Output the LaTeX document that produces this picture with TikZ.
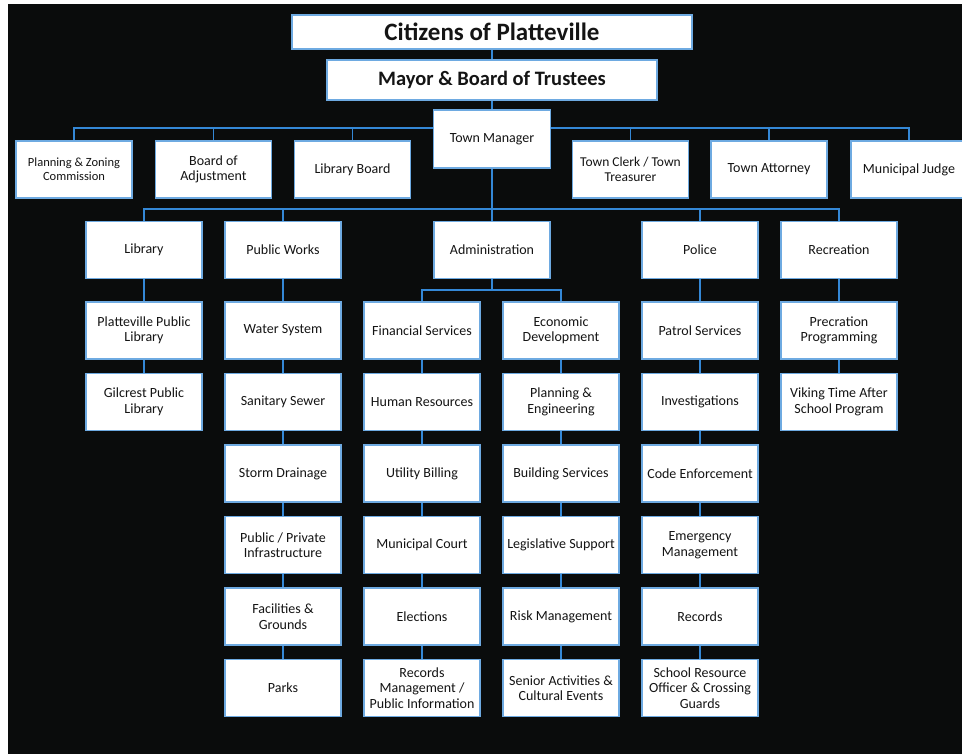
\documentclass[tikz,border=0pt]{standalone}
\usepackage{fontspec}
\setmainfont{Carlito}
\definecolor{bgblack}{RGB}{10,12,12}
\definecolor{linkblue}{RGB}{52,136,214}
\definecolor{edgeblue}{RGB}{110,170,225}
\definecolor{txt}{RGB}{20,20,20}
\pgfdeclarelayer{back}
\pgfdeclarelayer{links}
\pgfsetlayers{back,links,main}
\begin{document}
\begin{tikzpicture}[x=1pt,y=-1pt,
  orgbox/.style={draw=edgeblue,line width=1.2pt,fill=white,text=txt,align=center,
    minimum width=116pt,minimum height=57pt,inner sep=1pt,
    font=\fontsize{14}{15.5}\selectfont},
  link/.style={draw=linkblue,line width=1.8pt}]
\useasboundingbox (0,0) rectangle (962,754);
\begin{pgfonlayer}{back}
\fill[white] (0,0) rectangle (962,754);
\fill[bgblack] (8,4) rectangle (962,754);
\end{pgfonlayer}

% top
\node[orgbox,minimum width=400pt,minimum height=34pt,font=\bfseries\fontsize{25}{27}\selectfont] (cit) at (492,32) {Citizens of Platteville};
\node[orgbox,minimum width=330pt,minimum height=40pt,font=\bfseries\fontsize{20.5}{22}\selectfont] (may) at (492,80) {Mayor \& Board of Trustees};
\node[orgbox,minimum width=117pt,minimum height=58pt] (tm) at (492,139) {Town Manager};

% boards row
\node[orgbox,font=\fontsize{12.5}{14}\selectfont] (pz) at (74,169.5) {Planning \& Zoning\\Commission};
\node[orgbox] (ba) at (213.5,169.5) {Board of\\Adjustment};
\node[orgbox] (lb) at (352.5,169.5) {Library Board};
\node[orgbox,font=\fontsize{13.5}{15}\selectfont] (tc) at (630.5,169.5) {Town Clerk / Town\\Treasurer};
\node[orgbox] (ta) at (769,169.5) {Town Attorney};
\node[orgbox] (mj) at (909,169.5) {Municipal Judge};

% departments row
\node[orgbox] (lib) at (144,250) {Library};
\node[orgbox] (pw) at (283,250) {Public Works};
\node[orgbox] (adm) at (492,250) {Administration};
\node[orgbox] (pol) at (700,250) {Police};
\node[orgbox] (rec) at (839,250) {Recreation};

% library column
\node[orgbox] (ppl) at (144,330.5) {Platteville Public\\Library};
\node[orgbox] (gpl) at (144,402) {Gilcrest Public\\Library};

% public works column
\node[orgbox] (ws) at (283,330.5) {Water System};
\node[orgbox] (ss) at (283,402) {Sanitary Sewer};
\node[orgbox] (sd) at (283,473.5) {Storm Drainage};
\node[orgbox] (ppi) at (283,545) {Public / Private\\Infrastructure};
\node[orgbox] (fg) at (283,616.5) {Facilities \&\\Grounds};
\node[orgbox] (pk) at (283,688) {Parks};

% administration left column
\node[orgbox] (fs) at (422,330.5) {Financial Services};
\node[orgbox] (hr) at (422,402) {Human Resources};
\node[orgbox] (ub) at (422,473.5) {Utility Billing};
\node[orgbox] (mc) at (422,545) {Municipal Court};
\node[orgbox] (el) at (422,616.5) {Elections};
\node[orgbox] (rmp) at (422,688) {Records\\Management /\\Public Information};

% administration right column
\node[orgbox] (ed) at (561,330.5) {Economic\\Development};
\node[orgbox] (pe) at (561,402) {Planning \&\\Engineering};
\node[orgbox] (bs) at (561,473.5) {Building Services};
\node[orgbox] (ls) at (561,545) {Legislative Support};
\node[orgbox] (rk) at (561,616.5) {Risk Management};
\node[orgbox] (sa) at (561,688) {Senior Activities \&\\Cultural Events};

% police column
\node[orgbox] (ps) at (700,330.5) {Patrol Services};
\node[orgbox] (inv) at (700,402) {Investigations};
\node[orgbox] (ce) at (700,473.5) {Code Enforcement};
\node[orgbox] (em) at (700,545) {Emergency\\Management};
\node[orgbox] (rcd) at (700,616.5) {Records};
\node[orgbox] (sro) at (700,688) {School Resource\\Officer \& Crossing\\Guards};

% recreation column
\node[orgbox] (rp) at (839,330.5) {Precration\\Programming};
\node[orgbox] (vt) at (839,402) {Viking Time After\\School Program};

\coordinate (busA) at (492,128);
\coordinate (busB) at (492,209);
\coordinate (busC) at (492,290);

\begin{pgfonlayer}{links}
\draw[link] (cit.south) -- (may.north);
\draw[link] (may.south) -- (tm.north);
\draw[link] (tm.south) -- (adm.north);
\foreach \n in {pz,ba,lb,tc,ta,mj} \draw[link] (\n.north) |- (busA);
\foreach \n in {lib,pw,pol,rec} \draw[link] (\n.north) |- (busB);
\draw[link] (adm.south) -- (busC);
\foreach \n in {fs,ed} \draw[link] (\n.north) |- (busC);
\foreach \a/\b in {lib/ppl,ppl/gpl,
  pw/ws,ws/ss,ss/sd,sd/ppi,ppi/fg,fg/pk,
  fs/hr,hr/ub,ub/mc,mc/el,el/rmp,
  ed/pe,pe/bs,bs/ls,ls/rk,rk/sa,
  pol/ps,ps/inv,inv/ce,ce/em,em/rcd,rcd/sro,
  rec/rp,rp/vt} \draw[link] (\a.south) -- (\b.north);
\end{pgfonlayer}
\end{tikzpicture}
\end{document}
